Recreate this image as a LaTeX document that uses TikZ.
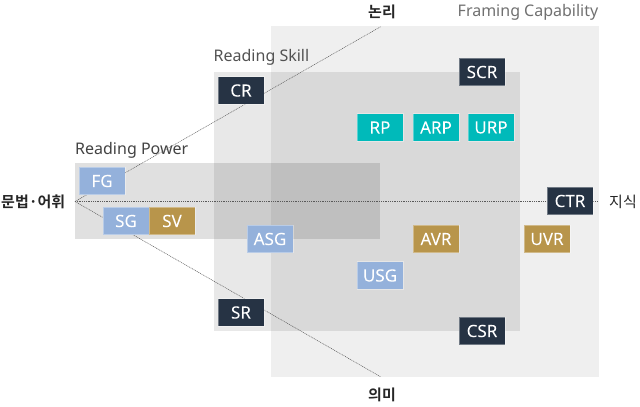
\documentclass[tikz,border=0pt]{standalone}
\usepackage{fontspec}
\setmainfont{Noto Sans}
\newfontfamily\tagfont[FakeBold=0.5]{Noto Sans}
\newfontfamily\kr{Noto Sans CJK KR}
\newfontfamily\krb{Noto Sans CJK KR Bold}
\definecolor{cblue}{HTML}{94B1DB}
\definecolor{cgold}{HTML}{B8954B}
\definecolor{cteal}{HTML}{00BABA}
\definecolor{cnavy}{HTML}{263344}
\begin{document}
\begin{tikzpicture}[x=1pt,y=-1pt,
  region/.style={fill=black,fill opacity=#1,draw=none},
  tag/.style={minimum width=46pt,minimum height=27.5pt,inner sep=0pt,text=white,draw=white,draw opacity=0.35,line width=0.6pt,font=\tagfont\fontsize{17}{17}\selectfont},
  bluetag/.style={tag,fill=cblue},
  goldtag/.style={tag,fill=cgold},
  tealtag/.style={tag,fill=cteal},
  navytag/.style={tag,fill=cnavy},
  grouplabel/.style={font=\fontsize{16}{16}\selectfont,inner sep=0pt,anchor=west},
  axislabel/.style={font=\krb\fontsize{15}{15}\selectfont,inner sep=0pt,text=black!85},
  guide/.style={draw=black!65,line width=0.5pt,dash pattern=on 1pt off 0.8pt}]
\useasboundingbox (0,0) rectangle (640,407);
% regions
\fill[region=0.063] (271,26) rectangle (599,377);
\fill[region=0.09] (214,72) rectangle (520,331);
\fill[region=0.12] (75,163) rectangle (380,239);
% group labels
\node[grouplabel,text=black!56] (fc) at (457.5,12) {Framing Capability};
\node[grouplabel,text=black!68] (rs) at (213.5,57) {Reading Skill};
\node[grouplabel,text=black!74] (rpw) at (75,150) {Reading Power};
% axis labels
\node[axislabel] (nonri) at (382,12) {논리};
\node[axislabel] (uimi) at (382,394.5) {의미};
\node[axislabel,anchor=west] (munbeop) at (1,201.5) {문법·어휘};
\node[axislabel,font=\kr\fontsize{15}{15}\selectfont,anchor=west,text=black!85] (jisik) at (609,201.5) {지식};
% guide lines
\coordinate (o) at (75,201.5);
\coordinate (top) at (381,26.5);
\coordinate (bot) at (381,377);
\coordinate (rt) at (598,201.5);
\draw[guide] (o) -- (top);
\draw[guide] (o) -- (bot);
\draw[guide] (o) -- (rt);
% tags
\node[bluetag] (FG) at (102,181) {FG};
\node[bluetag] (SG) at (126,221) {SG};
\node[goldtag] (SV) at (172,221) {SV};
\node[bluetag] (ASG) at (270,239) {ASG};
\node[bluetag] (USG) at (380,275.5) {USG};
\node[goldtag] (AVR) at (436,239) {AVR};
\node[goldtag] (UVR) at (547,239) {UVR};
\node[navytag] (SR) at (241,312.5) {SR};
\node[navytag] (CSR) at (482,331) {CSR};
\node[navytag] (CTR) at (570,201) {CTR};
\node[navytag] (CR) at (241,90.5) {CR};
\node[navytag] (SCR) at (482,72) {SCR};
\node[tealtag] (RP) at (380,127.5) {RP};
\node[tealtag] (ARP) at (436,127.5) {ARP};
\node[tealtag] (URP) at (491,127.5) {URP};
\end{tikzpicture}
\end{document}
